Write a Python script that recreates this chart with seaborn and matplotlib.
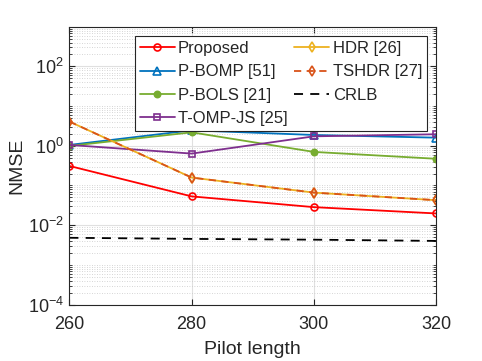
import numpy as np
import pandas as pd
import matplotlib
matplotlib.use('Agg')
import matplotlib.pyplot as plt
import matplotlib.ticker as mticker
import seaborn as sns

pilot_length = [260, 280, 300, 320]
proposed = [0.31, 0.053, 0.0284, 0.0197]
p_bomp = [1.05, 2.45, 1.87, 1.6]
p_bols = [0.99, 2.18, 0.70, 0.47]
t_omp_js = [1.05, 0.635, 1.73, 1.95]
hdr = [4.07, 0.158, 0.066, 0.0425]
tshdr = [4.07, 0.158, 0.066, 0.0425]
crlb = [0.0048, 0.0045, 0.0043, 0.0040]

sns.set_style('ticks')
plt.rcParams['font.family'] = ['Liberation Sans', 'DejaVu Sans']
plt.rcParams['mathtext.default'] = 'regular'

fig = plt.figure(figsize=(4.82, 3.61), dpi=100)
ax = fig.add_axes([0.144, 0.1565, 0.761, 0.7695])

styles = [
    ('Proposed', proposed, '#ff0000', '-', 'o', 5, 'none'),
    ('P-BOMP [51]', p_bomp, '#0072bd', '-', '^', 5.5, 'none'),
    ('P-BOLS [21]', p_bols, '#77ac30', '-', '.', 9, None),
    ('T-OMP-JS [25]', t_omp_js, '#7e2f8e', '-', 's', 4.5, 'none'),
    ('HDR [26]', hdr, '#edb120', '-', 'd', 5.5, 'none'),
    ('TSHDR [27]', tshdr, '#d95319', (0, (4, 3)), 'd', 5.5, 'none'),
    ('CRLB', crlb, 'black', (0, (5, 4)), None, 0, None),
]

for label, vals, color, ls, mk, ms, mfc in styles:
    df = pd.DataFrame({'x': pilot_length, 'y': vals})
    kw = dict(color=color, linestyle=ls, linewidth=1.3, label=label)
    if mk is not None:
        kw.update(marker=mk, markersize=ms, markeredgecolor=color, markeredgewidth=1.2)
        if mfc is not None:
            kw['markerfacecolor'] = mfc
    sns.lineplot(data=df, x='x', y='y', ax=ax, **kw)

ax.set_yscale('log')
ax.set_xlim(260, 320)
ax.set_ylim(1e-4, 1e3)
ax.set_xticks(pilot_length)
ax.yaxis.set_major_locator(mticker.FixedLocator([1e-4, 1e-2, 1e0, 1e2]))
ax.yaxis.set_major_formatter(mticker.FuncFormatter(lambda v, p: r'$10^{%d}$' % round(np.log10(v))))
ax.yaxis.set_minor_locator(mticker.LogLocator(base=10, subs=np.arange(1, 10), numticks=30))
ax.yaxis.set_minor_formatter(mticker.NullFormatter())

ax.grid(which='major', color='#e0e0e0', linewidth=0.8, linestyle='-')
ax.grid(which='minor', axis='y', color='#c8c8c8', linewidth=0.6, linestyle=(0, (1, 2)))
ax.set_axisbelow(True)

ax.tick_params(which='both', direction='in', top=True, right=True, labelsize=13, colors='#262626')
ax.tick_params(which='major', length=4)
ax.tick_params(which='minor', length=2)
ax.tick_params(axis='x', pad=8)
ax.tick_params(axis='y', pad=4)
for s in ax.spines.values():
    s.set_color('#262626')
    s.set_linewidth(0.8)

ax.set_xlabel('Pilot length', fontsize=14, color='#262626', labelpad=6)
ax.set_ylabel('NMSE', fontsize=14, color='#262626', labelpad=2)

leg = ax.legend(ncol=2, loc='upper right', bbox_to_anchor=(0.975, 0.966), fontsize=12,
                frameon=True, fancybox=False, edgecolor='#262626', framealpha=1,
                handlelength=2.1, handletextpad=0.2, columnspacing=0.4,
                labelspacing=0.5, borderpad=0.3, borderaxespad=0)
leg.get_frame().set_linewidth(0.8)

fig.savefig('out.png', dpi=100)
